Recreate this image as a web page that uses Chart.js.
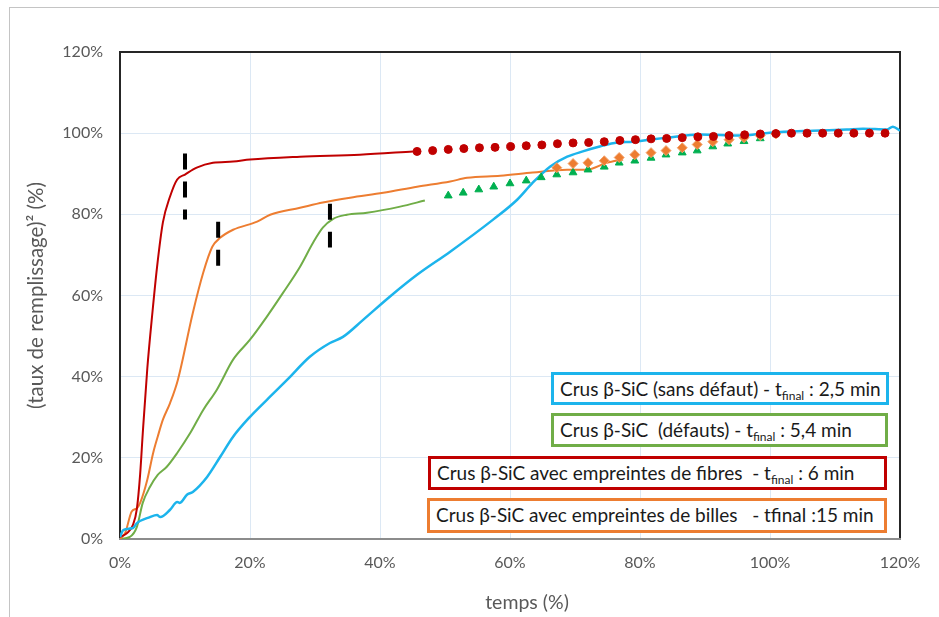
<!DOCTYPE html>
<html>
<head>
<meta charset="utf-8">
<script src="https://cdn.jsdelivr.net/npm/chart.js@4.4.1/dist/chart.umd.min.js"></script>
<style>
    body { margin: 0; background: #fff; }
    #wrap { position: relative; width: 939px; height: 617px; overflow: hidden; }
    #frame { position: absolute; left: 9px; top: 7px; width: 960px; height: 640px; border: 1px solid #c4c4c4; pointer-events: none; }
    .box {
        position: absolute; box-sizing: border-box; border: 3px solid; background: #fff;
        font-family: Lato, 'Open Sans', sans-serif; font-size: 19px; color: #1a1a1a;
        white-space: pre; line-height: 27px; padding-left: 6px;
    }
    .box sub { font-size: 12px; vertical-align: -4px; line-height: 0; }
</style>
</head>
<body>
<div id="wrap">
    <div id="frame"></div>
    <canvas id="chart" width="939" height="617"></canvas>
    <div class="box" style="left:551px; top:372px; width:338px; height:33px; border-color:#1cb4ec;">Crus β-SiC (sans défaut) - t<sub>final</sub> : 2,5 min</div>
    <div class="box" style="left:551px; top:413px; width:337px; height:34px; border-color:#70ad47;">Crus β-SiC  (défauts) - t<sub>final</sub> : 5,4 min</div>
    <div class="box" style="left:428px; top:456px; width:459px; height:34px; border-color:#c00000;">Crus β-SiC avec empreintes de fibres  - t<sub>final</sub> : 6 min</div>
    <div class="box" style="left:427px; top:498px; width:460px; height:35px; border-color:#ed7d31;">Crus β-SiC avec empreintes de billes   - tfinal :15 min</div>
</div>
<script>
// Axis ticks
const xTicks = [0, 20, 40, 60, 80, 100, 120];
const yTicks = [0, 20, 40, 60, 80, 100, 120];

// Fibres (red) measured line, then dotted continuation
const fibresX = [0, 1.1, 2.0, 2.6, 3.1, 3.5, 4.2, 5.0, 5.7, 6.6, 7.7, 8.8, 10.0, 11.8, 14.3, 17.4, 20.0, 27.7, 36.9, 45.1];
const fibresY = [0.5, 1.5, 3.5, 7.5, 16, 26, 42, 56, 67, 78, 84.4, 88.6, 89.8, 91.5, 92.7, 93.0, 93.5, 94.2, 94.7, 95.5];
const fibresDotsX = [45.7, 48.1, 50.5, 52.9, 55.3, 57.7, 60.1, 62.5, 64.9, 67.3, 69.7, 72.1, 74.5, 76.9, 79.3, 81.7, 84.1, 86.5, 88.9, 91.3, 93.7, 96.1, 98.5, 100.9, 103.3, 105.7, 108.1, 110.5, 112.9, 115.3, 117.7];
const fibresDotsY = [95.5, 95.7, 96.0, 96.2, 96.4, 96.5, 96.7, 96.9, 97.1, 97.4, 97.6, 97.7, 97.9, 98.2, 98.4, 98.6, 98.7, 98.9, 99.1, 99.2, 99.4, 99.6, 99.8, 99.9, 100.0, 100.0, 100.0, 100.0, 100.0, 100.0, 100.0];

// Billes (orange)
const billesX = [0, 0.8, 1.8, 2.6, 3.1, 4.2, 5.1, 5.8, 6.6, 7.7, 8.9, 11.2, 12.8, 14.2, 15.4, 17.4, 21.1, 23.1, 27.7, 31.2, 35.4, 40.5, 45.7, 50.8, 53.4, 58.5, 63.5, 68.8, 71.8, 74.9, 77.4];
const billesY = [0, 1.5, 6.8, 7.6, 8.9, 14.6, 21.2, 25.2, 29.4, 33.5, 39.2, 55.7, 65.6, 72.0, 74.2, 76.2, 78.2, 79.9, 81.6, 82.9, 84.1, 85.3, 86.8, 88.1, 89.0, 89.5, 90.3, 91.0, 91.0, 92.7, 93.5];
const billesDotsX = [67.2, 69.7, 72.0, 74.5, 76.8, 79.2, 81.7, 84.0, 86.5, 88.8, 91.2, 93.7, 96.0, 98.5, 100.9];
const billesDotsY = [91.5, 92.5, 92.7, 93.2, 94.0, 94.7, 95.2, 95.7, 96.4, 97.2, 97.9, 98.4, 98.9, 99.4, 99.8];

// Défauts (green)
const defautsX = [0, 1.5, 2.6, 3.5, 4.6, 5.8, 7.2, 8.8, 10.8, 12.8, 14.9, 17.4, 20.0, 22.6, 25.1, 27.7, 29.7, 31.2, 32.8, 34.9, 38.0, 43.1, 46.9];
const defautsY = [0, 0.5, 3.0, 8.9, 12.8, 15.8, 17.8, 21.2, 26.1, 31.8, 36.8, 44.2, 49.1, 54.8, 60.7, 67.1, 73.0, 76.7, 78.9, 79.9, 80.4, 81.9, 83.4];
const defautsDotsX = [50.5, 52.8, 55.2, 57.5, 60.0, 62.5, 64.8, 67.2, 69.7, 72.0, 74.5, 76.8, 79.2, 81.7, 84.0, 86.5, 88.8, 91.2, 93.5, 96.0, 98.5];
const defautsDotsY = [84.6, 85.3, 86.1, 86.8, 87.6, 88.3, 89.1, 89.8, 90.3, 91.0, 91.7, 92.7, 93.2, 93.9, 94.7, 95.2, 95.7, 96.7, 97.4, 98.0, 98.7];

// Sans défaut (blue)
const sansX = [0, 0.5, 2.0, 2.6, 4.6, 5.7, 6.2, 7.7, 8.8, 9.2, 10.3, 11.2, 13.4, 15.4, 17.4, 20.0, 22.6, 25.7, 29.2, 32.3, 34.3, 37.4, 41.5, 45.7, 50.8, 57.4, 61.1, 63.5, 66.2, 68.8, 71.2, 73.8, 76.5, 78.9, 81.5, 84.2, 89.2, 95.4, 100.0, 106.6, 111.8, 114.3, 118.0, 118.9, 120.0];
const sansY = [0.5, 2.2, 2.7, 3.9, 5.4, 5.9, 5.4, 7.2, 9.1, 8.9, 10.9, 11.6, 15.3, 20.2, 25.2, 30.1, 34.3, 39.2, 44.9, 48.3, 49.8, 54.0, 59.7, 65.1, 70.8, 78.7, 83.6, 87.8, 91.8, 94.2, 95.5, 96.7, 97.7, 97.9, 98.4, 98.9, 99.7, 99.4, 100.1, 100.6, 100.9, 101.1, 100.9, 101.6, 100.6];

// Black dashed markers (end of first regime)
const markerX = [10.0, 15.1, 32.3];
const markerTop = [95.0, 78.2, 82.6];
const markerBottom = [78.7, 67.3, 71.8];

const pts = (xs, ys) => xs.map((x, i) => ({ x: x, y: ys[i] }));

const lineDs = (xs, ys, color, width) => ({
    data: pts(xs, ys), showLine: true, borderColor: color, borderWidth: width,
    pointRadius: 0, cubicInterpolationMode: 'monotone', fill: false
});

const markerSets = markerX.map((x, i) => ({
    data: [{ x: x, y: markerTop[i] }, { x: x, y: markerBottom[i] }],
    showLine: true, borderColor: '#000', borderWidth: 4, borderDash: [16, 12],
    borderCapStyle: 'butt', pointRadius: 0
}));

// Chart area frame (dark left/top/right, grey bottom axis) and x title
const framePlugin = {
    id: 'frame',
    beforeDatasetsDraw(chart) {
        const { ctx, chartArea: a } = chart;
        ctx.save();
        ctx.lineWidth = 2;
        ctx.strokeStyle = '#262626';
        ctx.beginPath();
        ctx.moveTo(a.left, a.bottom);
        ctx.lineTo(a.left, a.top);
        ctx.lineTo(a.right, a.top);
        ctx.lineTo(a.right, a.bottom);
        ctx.stroke();
        ctx.strokeStyle = '#8c8c8c';
        ctx.beginPath();
        ctx.moveTo(a.left - 1, a.bottom);
        ctx.lineTo(a.right + 1, a.bottom);
        ctx.stroke();
        ctx.restore();
    },
    afterDraw(chart) {
        const { ctx } = chart;
        ctx.save();
        ctx.font = '19.5px Lato';
        ctx.fillStyle = '#595959';
        ctx.textAlign = 'center';
        ctx.textBaseline = 'middle';
        ctx.fillText('temps (%)', 527, 603);
        ctx.restore();
    }
};

new Chart(document.getElementById('chart'), {
    type: 'scatter',
    data: {
        datasets: [
            ...markerSets,
            { data: pts(fibresDotsX, fibresDotsY), pointStyle: 'circle', pointRadius: 4, backgroundColor: '#c00000', borderColor: '#c00000', borderWidth: 1 },
            { data: pts(billesDotsX, billesDotsY), pointStyle: 'rectRot', pointRadius: 5, backgroundColor: '#ed7d31', borderColor: '#f4a36c', borderWidth: 1 },
            { data: pts(defautsDotsX, defautsDotsY), pointStyle: 'triangle', pointRadius: 4.5, backgroundColor: '#00b050', borderColor: '#00b050', borderWidth: 1 },
            lineDs(sansX, sansY, '#1cb4ec', 2.5),
            lineDs(fibresX, fibresY, '#c00000', 2),
            lineDs(billesX, billesY, '#ed7d31', 2),
            lineDs(defautsX, defautsY, '#70ad47', 2)
        ]
    },
    options: {
        responsive: false,
        animation: false,
        layout: { padding: { top: 52, right: 39, left: 0, bottom: 0 } },
        plugins: { legend: { display: false }, tooltip: { enabled: false } },
        scales: {
            x: {
                type: 'linear', min: 0, max: 120,
                afterFit: s => { s.height = 78; },
                afterBuildTicks: s => { s.ticks = xTicks.map(v => ({ value: v })); },
                ticks: { callback: v => v + '%', color: '#595959', font: { family: 'Lato', size: 16 }, padding: 14, maxRotation: 0 },
                grid: { color: '#dce8f4', lineWidth: 1, drawTicks: false },
                border: { display: false }
            },
            y: {
                type: 'linear', min: 0, max: 120,
                afterFit: s => { s.width = 120; },
                afterBuildTicks: s => { s.ticks = yTicks.map(v => ({ value: v })); },
                ticks: { callback: v => v + '%', color: '#595959', font: { family: 'Lato', size: 16 }, padding: 17 },
                grid: { color: '#dce8f4', lineWidth: 1, drawTicks: false },
                border: { display: false },
                title: { display: true, text: '(taux de remplissage)² (%)', color: '#595959', font: { family: 'Lato', size: 20.5 }, padding: { top: 24, bottom: 0 } }
            }
        }
    },
    plugins: [framePlugin]
});
</script>
</body>
</html>
